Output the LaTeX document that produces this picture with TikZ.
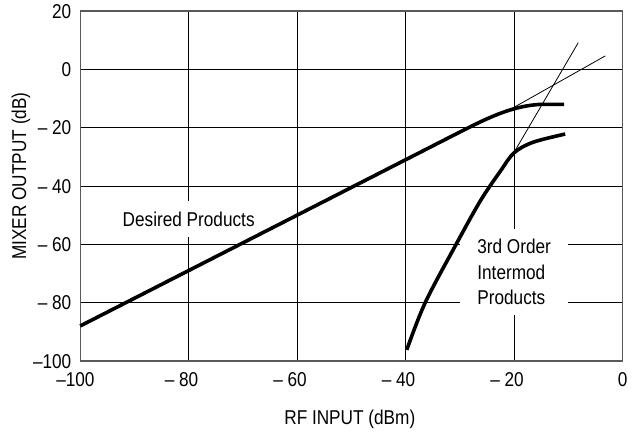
\documentclass[tikz,border=0pt]{standalone}
\usepackage{fontspec}
\setmainfont{Liberation Sans}[FakeStretch=0.86]
\begin{document}
\begin{tikzpicture}[x=5.425pt, y=2.9167pt,
  font=\fontsize{20}{25.5}\selectfont,
  frameline/.style={draw=black!65, line width=1.2pt},
  gridline/.style={draw=black, line width=0.8pt},
  response/.style={line width=3.6pt},
  slopeline/.style={line width=0.8pt},
  ticklabel/.style={inner sep=0pt},
  curvelabel/.style={fill=white}]
\useasboundingbox (-114.78,-124.01) rectangle (3.56,23.76);

% Define coordinates
\coordinate (SW) at (-100,-100);
\coordinate (NE) at (0,20);
\coordinate (A) at (-20,-13);    % desired products, end of linear region
\coordinate (A') at (-3.2,4.6);
\coordinate (B) at (-20,-28.4);  % intermod products, end of linear region
\coordinate (B') at (-8.2,9.1);

% Draw the grid
\foreach \gx in {-80,-60,-40,-20}
  \draw[gridline] (\gx,-100) -- (\gx,20);
\foreach \gy in {0,-20,-40,-60,-80}
  \draw[gridline] (-100,\gy) -- (0,\gy);
\draw[frameline] (SW) rectangle (NE);

% Add tick labels
\foreach \v/\t [count=\i] in {20/20, 0/0, -20/\textendash\ 20, -40/\textendash\ 40,
    -60/\textendash\ 60, -80/\textendash\ 80, -100/\textendash100}
  \node[ticklabel, anchor=base east] (ylab\i) at (-101.6,\v-2.45) {\t};
\foreach \v/\t [count=\i] in {-100/\llap{\textendash}100, -80/\llap{\textendash\ }80,
    -60/\llap{\textendash\ }60, -40/\llap{\textendash\ }40, -20/\llap{\textendash\ }20, 0/0}
  \node[ticklabel, anchor=base] (xlab\i) at (\v,-108.74) {\t};

% Axis titles
\node[rotate=90] (ytitle) at (-110.9,-36.6) {MIXER OUTPUT (dB)};
\node[anchor=base] (xtitle) at (-50.3,-121.7) {RF INPUT (dBm)};

% Curve labels
\node[curvelabel, inner xsep=4pt, inner ysep=11pt] (desired) at (-80,-51.3) {Desired Products};
\node[curvelabel, align=left, inner xsep=17pt, inner ysep=10pt] (intermod) at (-20,-69.6)
  {3rd Order\\Intermod\\Products};

% Draw the responses
\draw[response] (-100,-88) -- (-30,-21.5) .. controls (-24,-15.8) and (-20,-12.5) .. (-15,-12)
  -- (-10.8,-12);
\draw[response] plot[smooth, tension=0.55] coordinates {(-39.8,-96.2) (-36.4,-80) (-30.7,-60)
  (-26.2,-45) (-22.5,-34.8) (-20,-28.6) (-16.5,-25) (-10.6,-22.2)};

% Extrapolated slopes
\draw[slopeline] (A) -- (A');
\draw[slopeline] (B) -- (B');

\end{tikzpicture}
\end{document}
